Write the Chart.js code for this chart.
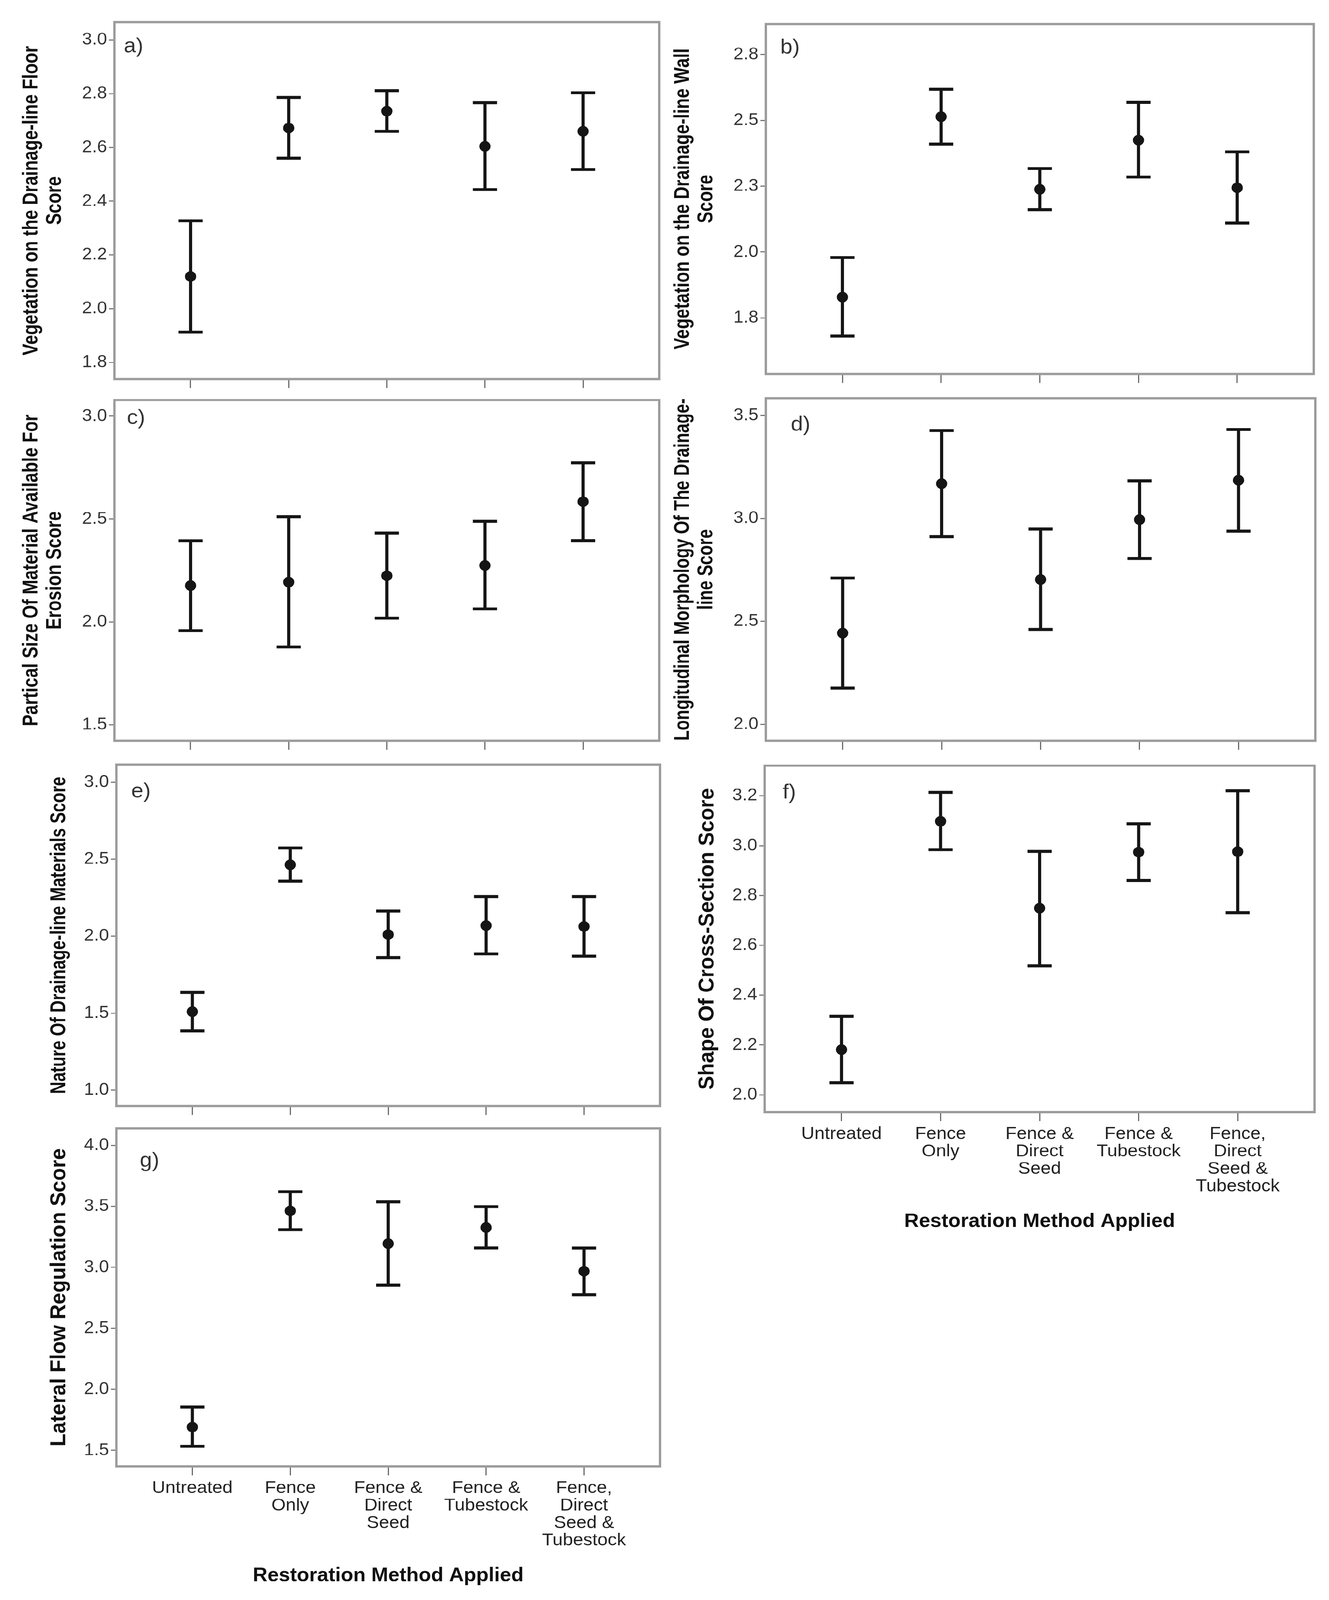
<!DOCTYPE html>
<html>
<head>
<meta charset="utf-8">
<script src="https://cdn.jsdelivr.net/npm/chart.js@4.4.1/dist/chart.umd.min.js"></script>
<style>
    html, body { margin: 0; padding: 0; background: #fff; overflow: hidden; }
    #page { position: relative; width: 3403px; height: 4310px; background: #fff; overflow: hidden; transform-origin: 0 0; }
    .panel { position: absolute; }
</style>
</head>
<body>
<div id="page"></div>
<script>
// categories on the x axis
const categories = ['Untreated', 'Fence Only', 'Fence & Direct Seed', 'Fence & Tubestock', 'Fence, Direct Seed & Tubestock'];
const categoryLabels = [['Untreated'], ['Fence', 'Only'], ['Fence &', 'Direct', 'Seed'], ['Fence &', 'Tubestock'], ['Fence,', 'Direct', 'Seed &', 'Tubestock']];
const xAxisTitle = 'Restoration Method Applied';

// a) vegetation on the drainage-line floor
const floorMean  = [2.120, 2.672, 2.735, 2.604, 2.660];
const floorLower = [1.913, 2.560, 2.660, 2.443, 2.518];
const floorUpper = [2.327, 2.786, 2.811, 2.766, 2.803];
const floorTicks = [1.8, 2.0, 2.2, 2.4, 2.6, 2.8, 3.0];
const floorTickLabels = ['1.8', '2.0', '2.2', '2.4', '2.6', '2.8', '3.0'];

// b) vegetation on the drainage-line wall
const wallMean  = [1.829, 2.514, 2.238, 2.425, 2.244];
const wallLower = [1.681, 2.410, 2.161, 2.285, 2.110];
const wallUpper = [1.979, 2.618, 2.317, 2.568, 2.380];
const wallTicks = [1.75, 2.0, 2.25, 2.5, 2.75];
const wallTickLabels = ['1.8', '2.0', '2.3', '2.5', '2.8'];

// c) partical size of material available for erosion
const particleMean  = [2.176, 2.193, 2.224, 2.274, 2.584];
const particleLower = [1.957, 1.878, 2.018, 2.063, 2.395];
const particleUpper = [2.394, 2.511, 2.432, 2.488, 2.773];
const particleTicks = [1.5, 2.0, 2.5, 3.0];
const particleTickLabels = ['1.5', '2.0', '2.5', '3.0'];

// d) longitudinal morphology
const longMean  = [2.443, 3.169, 2.703, 2.994, 3.185];
const longLower = [2.176, 2.911, 2.461, 2.805, 2.938];
const longUpper = [2.710, 3.427, 2.948, 3.183, 3.432];
const longTicks = [2.0, 2.5, 3.0, 3.5];
const longTickLabels = ['2.0', '2.5', '3.0', '3.5'];

// e) nature of drainage-line materials
const natureMean  = [1.509, 2.464, 2.010, 2.069, 2.063];
const natureLower = [1.384, 2.357, 1.861, 1.885, 1.870];
const natureUpper = [1.634, 2.573, 2.163, 2.257, 2.257];
const natureTicks = [1.0, 1.5, 2.0, 2.5, 3.0];
const natureTickLabels = ['1.0', '1.5', '2.0', '2.5', '3.0'];

// f) shape of cross-section
const shapeMean  = [2.181, 3.098, 2.749, 2.974, 2.976];
const shapeLower = [2.048, 2.984, 2.518, 2.860, 2.731];
const shapeUpper = [2.315, 3.214, 2.977, 3.088, 3.220];
const shapeTicks = [2.0, 2.2, 2.4, 2.6, 2.8, 3.0, 3.2];
const shapeTickLabels = ['2.0', '2.2', '2.4', '2.6', '2.8', '3.0', '3.2'];

// g) lateral flow regulation
const lateralMean  = [1.691, 3.463, 3.194, 3.326, 2.968];
const lateralLower = [1.533, 3.309, 2.854, 3.159, 2.776];
const lateralUpper = [1.856, 3.620, 3.537, 3.497, 3.158];
const lateralTicks = [1.5, 2.0, 2.5, 3.0, 3.5, 4.0];
const lateralTickLabels = ['1.5', '2.0', '2.5', '3.0', '3.5', '4.0'];

const INK = '#151515';
const SANS = '"Liberation Sans", Arial, sans-serif';

const panels = [
    { letter: 'a)', title: ['Vegetation on the Drainage-line Floor', 'Score'], mean: floorMean, lower: floorLower, upper: floorUpper,
      ticks: floorTicks, tickLabels: floorTickLabels, yMin: 1.738, yMax: 3.066, frame: [293, 39, 1688, 1028], letterPos: [24, 66], squeeze: 0.84 },
    { letter: 'b)', title: ['Vegetation on the Drainage-line Wall', 'Score'], mean: wallMean, lower: wallLower, upper: wallUpper,
      ticks: wallTicks, tickLabels: wallTickLabels, yMin: 1.537, yMax: 2.866, frame: [1961, 44, 3364, 1014], letterPos: [37, 64], squeeze: 0.84 },
    { letter: 'c)', title: ['Partical Size Of Material Available For', 'Erosion Score'], mean: particleMean, lower: particleLower, upper: particleUpper,
      ticks: particleTicks, tickLabels: particleTickLabels, yMin: 1.422, yMax: 3.078, frame: [293, 1057, 1688, 2002], letterPos: [32, 49], squeeze: 0.84 },
    { letter: 'd)', title: ['Longitudinal Morphology Of The Drainage-', 'line Score'], mean: longMean, lower: longLower, upper: longUpper,
      ticks: longTicks, tickLabels: longTickLabels, yMin: 1.92, yMax: 3.584, frame: [1961, 1052, 3368, 2002], letterPos: [64, 72], squeeze: 0.81 },
    { letter: 'e)', title: 'Nature Of Drainage-line Materials Score', mean: natureMean, lower: natureLower, upper: natureUpper,
      ticks: natureTicks, tickLabels: natureTickLabels, yMin: 0.896, yMax: 3.115, frame: [298, 2039, 1690, 2986], letterPos: [38, 73], squeeze: 0.81 },
    { letter: 'f)', title: 'Shape Of Cross-Section Score', mean: shapeMean, lower: shapeLower, upper: shapeUpper,
      ticks: shapeTicks, tickLabels: shapeTickLabels, yMin: 1.930, yMax: 3.321, frame: [1958, 2042, 3366, 2996], letterPos: [46, 73], squeeze: 1, showLabels: true },
    { letter: 'g)', title: 'Lateral Flow Regulation Score', mean: lateralMean, lower: lateralLower, upper: lateralUpper,
      ticks: lateralTicks, tickLabels: lateralTickLabels, yMin: 1.369, yMax: 4.139, frame: [298, 3019, 1690, 3950], letterPos: [60, 88], squeeze: 1, showLabels: true }
];

// frame, whiskers, panel letter and the (condensed) y axis title
const errorBarPlugin = {
    id: 'errorBars',
    beforeDatasetsDraw(chart, args, opts) {
        const { ctx, chartArea, scales: { x, y } } = chart;
        ctx.save();
        ctx.strokeStyle = '#9c9c9c';
        ctx.lineWidth = 6;
        ctx.strokeRect(chartArea.left, chartArea.top, chartArea.right - chartArea.left, chartArea.bottom - chartArea.top);

        ctx.strokeStyle = INK;
        ctx.lineWidth = 8;
        opts.lower.forEach((lo, i) => {
            const px = x.getPixelForValue(i);
            const yLo = y.getPixelForValue(lo);
            const yHi = y.getPixelForValue(opts.upper[i]);
            ctx.beginPath();
            ctx.moveTo(px, yLo);
            ctx.lineTo(px, yHi);
            ctx.moveTo(px - 31, yLo);
            ctx.lineTo(px + 31, yLo);
            ctx.moveTo(px - 31, yHi);
            ctx.lineTo(px + 31, yHi);
            ctx.stroke();
        });

        ctx.fillStyle = '#333';
        ctx.font = '56px ' + SANS;
        ctx.textAlign = 'left';
        ctx.textBaseline = 'middle';
        ctx.fillText(opts.letter, chartArea.left + opts.letterPos[0], chartArea.top + opts.letterPos[1]);
        ctx.restore();
    },
    afterDraw(chart, args, opts) {
        const { ctx, chartArea } = chart;
        const lines = Array.isArray(opts.title) ? opts.title : [opts.title];
        const x0 = chartArea.left - (lines.length > 1 ? 212 : 146);
        const cy = (chartArea.top + chartArea.bottom) / 2;
        ctx.save();
        ctx.fillStyle = '#111';
        ctx.font = 'bold 56px ' + SANS;
        ctx.textAlign = 'center';
        ctx.textBaseline = 'middle';
        lines.forEach((line, k) => {
            ctx.save();
            ctx.translate(x0 + k * 60, cy);
            ctx.rotate(-Math.PI / 2);
            ctx.scale(opts.squeeze, 1);
            ctx.fillText(line, 0, 0);
            ctx.restore();
        });
        ctx.restore();
    }
};

const page = document.getElementById('page');

// the window may be shorter than the figure: squeeze the page so the whole figure is in view
const fitY = Math.min(1, window.innerHeight / 4310);
if (fitY < 1) {
    page.style.transform = 'scale(1, ' + fitY + ')';
}

function makePanel(p) {
    const padTop = 12, padRight = 16, yAxisW = 293;
    const xAxisH = p.showLabels ? 345 : 26;
    const fw = p.frame[2] - p.frame[0];
    const fh = p.frame[3] - p.frame[1];

    const wrap = document.createElement('div');
    wrap.className = 'panel';
    wrap.style.left = (p.frame[0] - yAxisW) + 'px';
    wrap.style.top = (p.frame[1] - padTop) + 'px';
    wrap.style.width = (yAxisW + fw + padRight) + 'px';
    wrap.style.height = (padTop + fh + xAxisH) + 'px';
    const cv = document.createElement('canvas');
    wrap.appendChild(cv);
    page.appendChild(wrap);

    new Chart(cv, {
        type: 'scatter',
        data: {
            datasets: [{
                data: p.mean.map((m, i) => ({ x: i, y: m })),
                backgroundColor: INK,
                borderColor: INK,
                pointRadius: 14,
                pointHoverRadius: 14
            }]
        },
        options: {
            responsive: true,
            maintainAspectRatio: false,
            devicePixelRatio: 1,
            animation: false,
            events: [],
            layout: { padding: { top: padTop, right: padRight, left: 0, bottom: 0 } },
            plugins: {
                legend: { display: false },
                tooltip: { enabled: false },
                errorBars: { lower: p.lower, upper: p.upper, letter: p.letter, letterPos: p.letterPos, title: p.title, squeeze: p.squeeze }
            },
            scales: {
                x: {
                    type: 'linear',
                    min: -0.776,
                    max: 4.776,
                    afterBuildTicks: (scale) => { scale.ticks = categories.map((c, i) => ({ value: i })); },
                    afterFit: (scale) => { scale.height = xAxisH; },
                    border: { display: false },
                    grid: { drawOnChartArea: false, drawTicks: true, tickLength: 24, color: '#6a6a6a', lineWidth: 3 },
                    ticks: {
                        display: !!p.showLabels,
                        padding: 12,
                        color: '#222',
                        font: { family: SANS, size: 47, lineHeight: 1.0 },
                        maxRotation: 0,
                        autoSkip: false,
                        callback: (v, i) => categoryLabels[i]
                    },
                    title: {
                        display: !!p.showLabels,
                        text: xAxisTitle,
                        color: '#111',
                        font: { family: SANS, size: 52, weight: 'bold', lineHeight: 1.1 },
                        padding: { top: 0, bottom: 22 }
                    }
                },
                y: {
                    type: 'linear',
                    min: p.yMin,
                    max: p.yMax,
                    afterBuildTicks: (scale) => { scale.ticks = p.ticks.map(v => ({ value: v })); },
                    afterFit: (scale) => { scale.width = yAxisW; },
                    border: { display: false },
                    grid: { drawOnChartArea: false, drawTicks: true, tickLength: 14, color: '#777', lineWidth: 3 },
                    ticks: {
                        padding: 5,
                        color: '#333',
                        font: { family: SANS, size: 46 },
                        callback: (v, i) => p.tickLabels[i]
                    }
                }
            }
        },
        plugins: [errorBarPlugin]
    });
}

panels.forEach(makePanel);
</script>
</body>
</html>
